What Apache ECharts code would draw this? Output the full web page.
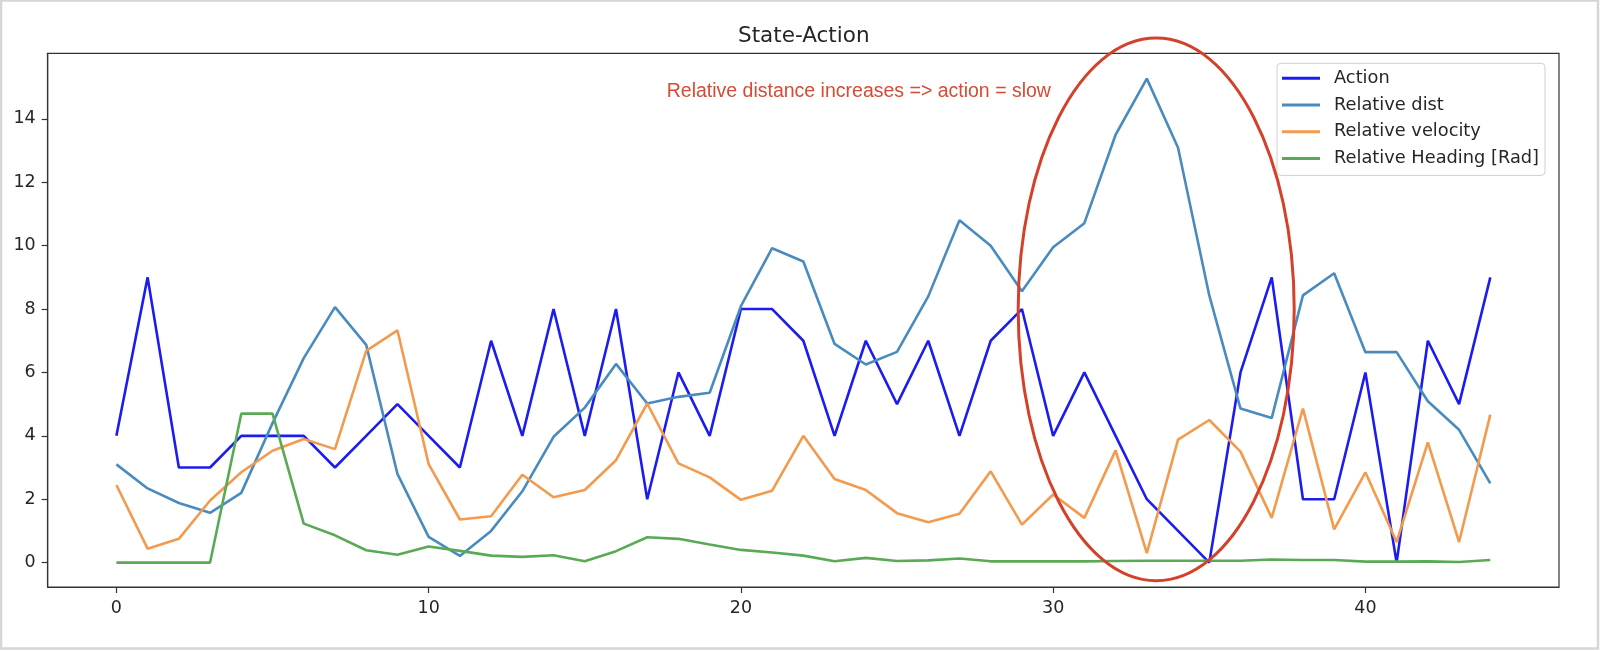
<!DOCTYPE html>
<html>
<head>
<meta charset="utf-8">
<script src="https://cdn.jsdelivr.net/npm/echarts@6/dist/echarts.min.js"></script>
<style>
html,body{margin:0;padding:0;background:#ffffff;}
#chart{width:1600px;height:651px;}
</style>
</head>
<body>
<div id="chart"></div>
<script>
// ---- data ----
const steps = [0,1,2,3,4,5,6,7,8,9,10,11,12,13,14,15,16,17,18,19,20,21,22,23,24,25,26,27,28,29,30,31,32,33,34,35,36,37,38,39,40,41,42,43,44];
const action = [4,9,3,3,4,4,4,3,4,5,4,3,7,4,8,4,8,2,6,4,8,8,7,4,7,5,7,4,7,8,4,6,4,2,1,0,6,9,2,2,6,0,7,5,9];
const relDist = [3.1,2.34,1.88,1.57,2.2,4.4,6.45,8.06,6.87,2.8,0.81,0.21,1.0,2.25,3.97,4.89,6.27,5.02,5.23,5.36,8.09,9.92,9.5,6.9,6.25,6.65,8.4,10.8,10.0,8.56,9.95,10.71,13.5,15.27,13.09,8.43,4.86,4.56,8.43,9.13,6.64,6.64,5.09,4.19,2.5];
const relVel = [2.45,0.44,0.75,1.96,2.85,3.53,3.9,3.58,6.68,7.33,3.11,1.36,1.46,2.77,2.06,2.29,3.23,5.02,3.13,2.69,1.98,2.27,4.0,2.64,2.29,1.56,1.27,1.54,2.88,1.2,2.15,1.41,3.54,0.3,3.88,4.5,3.5,1.41,4.86,1.05,2.85,0.65,3.79,0.65,4.67];
const relHeading = [0,0,0,0,4.7,4.7,1.23,0.86,0.39,0.25,0.51,0.37,0.22,0.18,0.23,0.04,0.36,0.8,0.75,0.57,0.4,0.32,0.22,0.04,0.15,0.05,0.07,0.13,0.04,0.04,0.04,0.04,0.05,0.06,0.06,0.06,0.06,0.1,0.08,0.08,0.03,0.03,0.04,0.02,0.08];
const seriesNames = ['Action','Relative dist','Relative velocity','Relative Heading [Rad]'];
const xTicks = [0,10,20,30,40];
const yTicks = [0,2,4,6,8,10,12,14];
const titleText = 'State-Action';
const noteText = 'Relative distance increases => action = slow';

// ---- styles / layout ----
const colors = ['#1c1cf0','#4a8bbf','#f39a4e','#5aaa55'];
const tickFont = 'DejaVu Sans';
const axisColor = '#333333';
const labelColor = '#262626';

const pairs = arr => steps.map((s,i)=>[s, arr[i]]);
const allSeries = [action, relDist, relVel, relHeading];

const chart = echarts.init(document.getElementById('chart'), null, {renderer:'canvas'});
const option = {
  animation: false,
  backgroundColor: '#ffffff',
  title: {
    text: titleText,
    left: 738, top: 25.5, padding: 0,
    textStyle: {fontFamily: tickFont, fontSize: 21.5, fontWeight: 'normal', color: labelColor}
  },
  grid: {
    left: 47.7, right: 41, top: 53.3, bottom: 64,
    show: true, borderColor: axisColor, borderWidth: 1.2, backgroundColor: 'transparent'
  },
  legend: {
    orient: 'vertical',
    left: 1277, top: 63.3,
    padding: [5, 6, 7, 5],
    itemGap: 6.7,
    itemWidth: 38, itemHeight: 3,
    icon: 'rect',
    backgroundColor: 'rgba(255,255,255,0.85)',
    borderColor: '#cfcfcf', borderWidth: 1, borderRadius: 4,
    textStyle: {fontFamily: tickFont, fontSize: 17.8, color: labelColor, lineHeight: 20, padding: [0,0,0,9]},
    data: seriesNames
  },
  xAxis: {
    type: 'value', min: -2.2, max: 46.2,
    splitLine: {show: false},
    axisLine: {show: true, onZero: false, lineStyle: {color: axisColor, width: 1.2}},
    axisTick: {show: true, length: 6, lineStyle: {color: axisColor, width: 1.2}, customValues: xTicks},
    axisLabel: {fontFamily: tickFont, fontSize: 17.5, color: labelColor, margin: 12, customValues: xTicks}
  },
  yAxis: {
    type: 'value', min: -0.77, max: 16.07,
    splitLine: {show: false},
    axisLine: {show: true, onZero: false, lineStyle: {color: axisColor, width: 1.2}},
    axisTick: {show: true, length: 6, lineStyle: {color: axisColor, width: 1.2}, customValues: yTicks},
    axisLabel: {fontFamily: tickFont, fontSize: 17.5, color: labelColor, margin: 12, customValues: yTicks}
  },
  series: allSeries.map((arr, k) => ({
    name: seriesNames[k],
    type: 'line',
    data: pairs(arr),
    symbol: 'none',
    showSymbol: false,
    color: colors[k],
    lineStyle: {color: colors[k], width: 2.6},
    z: 2 + k
  }))
};
chart.setOption(option);

// ---- annotation (ellipse placed in data coordinates) ----
const noteCenter = [33.3, 7.99];
const noteRadius = [4.42, 8.56];
const c = chart.convertToPixel({gridIndex: 0}, noteCenter);
const e = chart.convertToPixel({gridIndex: 0}, [noteCenter[0] + noteRadius[0], noteCenter[1] + noteRadius[1]]);
chart.setOption({
  graphic: [
    {type: 'rect', shape: {x: 1, y: 0.5, width: 1597, height: 648}, style: {fill: 'none', stroke: '#d6d6d6', lineWidth: 2.5}, silent: true, z: 1},
    {type: 'ellipse', shape: {cx: c[0], cy: c[1], rx: Math.abs(e[0]-c[0]), ry: Math.abs(c[1]-e[1])},
     style: {fill: 'none', stroke: '#d4412b', lineWidth: 3}, silent: true, z: 100},
    {type: 'text', x: 666.7, y: 92, z: 100, silent: true,
     style: {text: noteText, fill: '#d64a36', font: '19.5px "Liberation Sans", Arial, sans-serif', verticalAlign: 'middle', align: 'left'}}
  ]
});
</script>
</body>
</html>
